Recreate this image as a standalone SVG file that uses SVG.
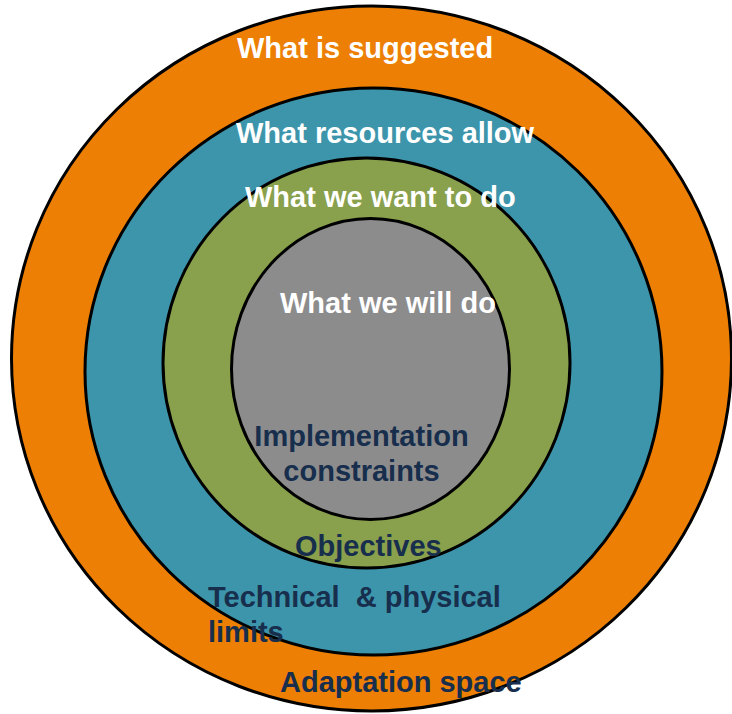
<svg xmlns="http://www.w3.org/2000/svg" width="732" height="714" viewBox="0 0 732 714">
<style>
.ring{stroke:#000;stroke-width:3}
.w{font-family:"Liberation Sans",Arial,sans-serif;font-weight:bold;font-size:29px;fill:#fff}
.d{font-family:"Liberation Sans",Arial,sans-serif;font-weight:bold;font-size:29px;fill:#172E4D;white-space:pre}
</style>
<rect width="732" height="714" fill="#fff"/>
<g id="adaptation-space">
<ellipse class="ring" cx="371.5" cy="358.5" rx="360" ry="352.5" fill="#EC7F04"/>
</g>
<g id="technical-limits">
<ellipse class="ring" cx="373.5" cy="371.5" rx="288.5" ry="283.5" fill="#3D95AB"/>
</g>
<g id="objectives">
<ellipse class="ring" cx="366.5" cy="363" rx="203.5" ry="205" fill="#89A04C"/>
</g>
<g id="implementation">
<ellipse class="ring" cx="370.5" cy="369" rx="139" ry="150.5" fill="#8C8C8C"/>
</g>
<g id="labels">
<text class="w" x="237" y="58">What is suggested</text>
<text class="w" x="236" y="143">What resources allow</text>
<text class="w" x="245" y="207">What we want to do</text>
<text class="w" x="280" y="313">What we will do</text>
<text class="d" x="361.5" y="446" text-anchor="middle">Implementation</text>
<text class="d" x="361.5" y="481" text-anchor="middle">constraints</text>
<text class="d" x="295" y="556">Objectives</text>
<text class="d" x="208" y="607" xml:space="preserve">Technical  &amp; physical</text>
<text class="d" x="208" y="642">limits</text>
<text class="d" x="280" y="692">Adaptation space</text>
</g>
</svg>
